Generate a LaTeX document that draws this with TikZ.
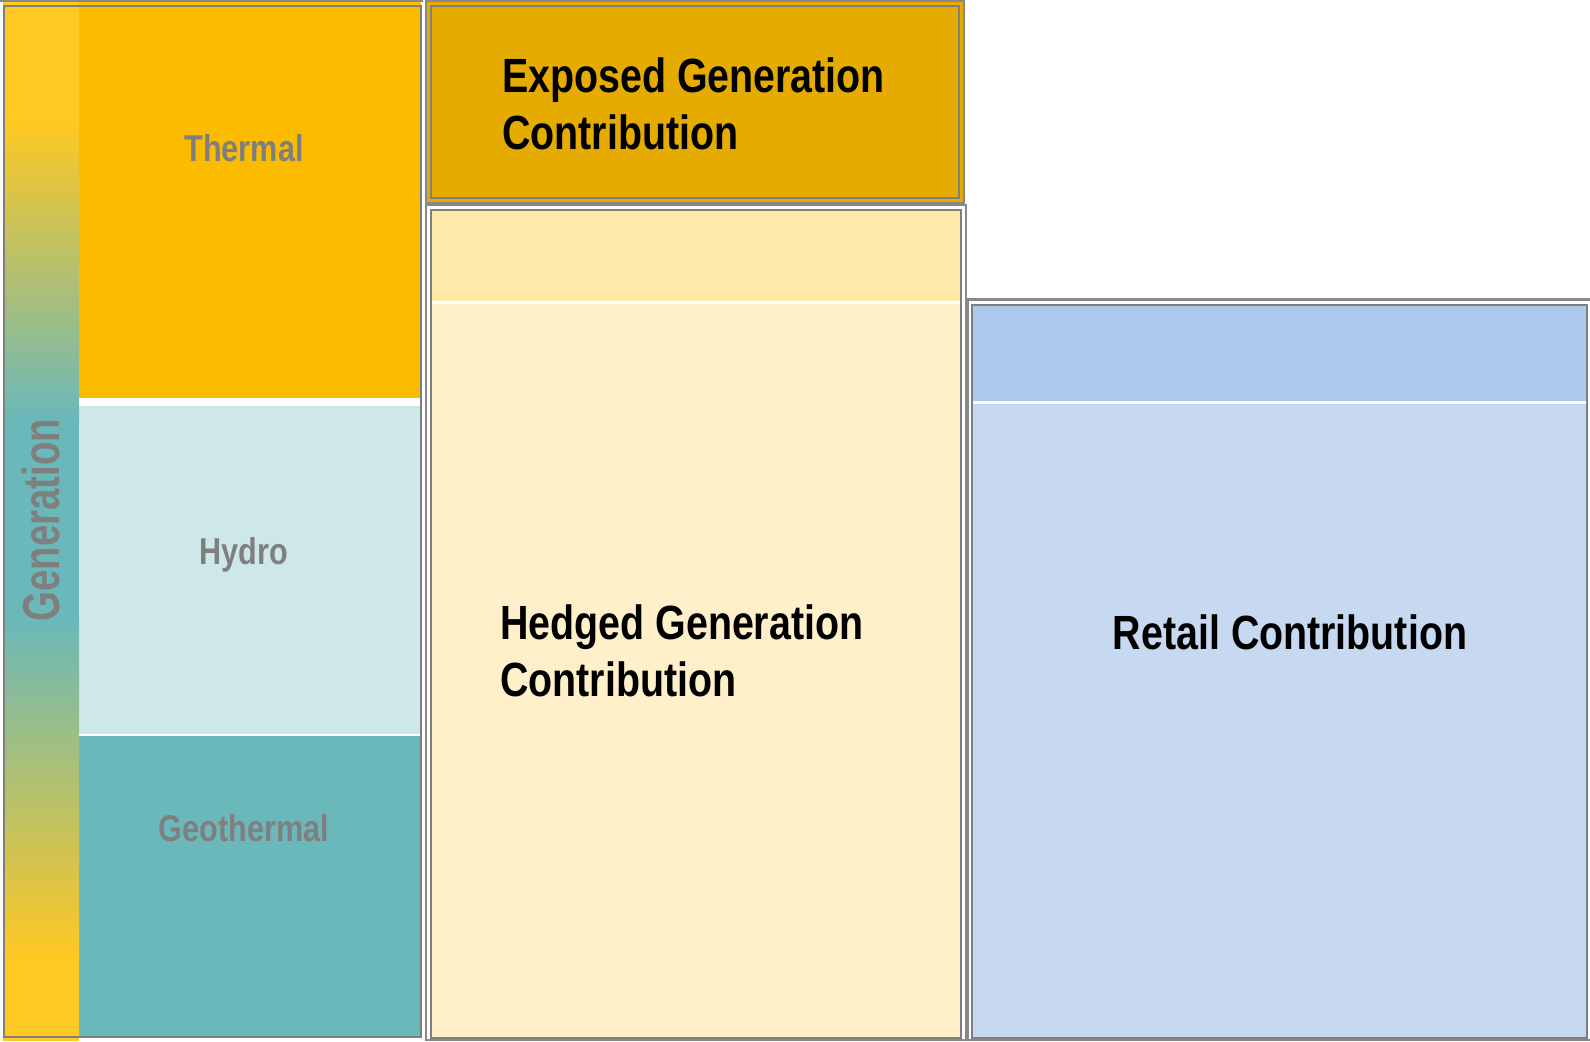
\documentclass[tikz,border=0pt]{standalone}
\usepackage{fontspec}
\setmainfont{Liberation Sans}
\newfontfamily\narrowsans[FakeStretch=0.82]{Liberation Sans}
\begin{document}
\definecolor{thermalc}{HTML}{FBBC00}
\definecolor{hydroc}{HTML}{CEE8E9}
\definecolor{geoc}{HTML}{6BB8BB}
\definecolor{exposedc}{HTML}{E6AB00}
\definecolor{hedgetop}{HTML}{FFE9A8}
\definecolor{hedgemain}{HTML}{FFF0CA}
\definecolor{retailtop}{HTML}{ACC8EC}
\definecolor{retailmain}{HTML}{C7D9F0}
\definecolor{genyellow}{HTML}{FFC822}
\definecolor{genteal}{HTML}{6AB8BA}
\definecolor{framegrey}{HTML}{7F7F7F}
\definecolor{outergrey}{HTML}{888888}
\begin{tikzpicture}[x=0.75pt,y=-0.75pt,
  frame/.style={draw=framegrey,line width=1.9pt},
  outerframe/.style={draw=outergrey,line width=1.9pt},
  sidelabel/.style={font=\narrowsans\bfseries\fontsize{28}{32}\selectfont,text=framegrey,inner sep=0pt},
  biglabel/.style={font=\narrowsans\bfseries\fontsize{36}{43}\selectfont,text=black,inner sep=0pt}]
\useasboundingbox (0,0) rectangle (1590,1041);

% ---- generation column: stacked sources ----
\fill[thermalc] (4,1) rectangle (421,398);
\fill[white] (79,398) rectangle (421,406);
\fill[hydroc] (79,406) rectangle (421,734);
\fill[white] (79,734) rectangle (421,736);
\fill[geoc] (79,736) rectangle (421,1037);

% vertical generation band with its colour blend
\fill[genyellow] (3,0) rectangle (79,120);
\shade[top color=genyellow,bottom color=genteal] (3,120) rectangle (79,420);
\fill[genteal] (3,420) rectangle (79,620);
\shade[top color=genteal,bottom color=genyellow] (3,620) rectangle (79,960);
\fill[genyellow] (3,960) rectangle (79,1041);

\draw[outerframe,line width=1pt] (0,1) -- (423,1);
\draw[frame] (4,6) rectangle (421,1037);

% ---- exposed generation ----
\draw[outerframe,fill=exposedc] (426,1) rectangle (964,203);
\draw[frame] (431,6) rectangle (959,198);

% ---- hedged generation ----
\draw[outerframe] (426,205) rectangle (966,1040);
\fill[hedgemain] (431,210) rectangle (961,1038);
\fill[hedgetop] (431,210) rectangle (961,301);
\fill[white] (431,301) rectangle (961,304);
\draw[frame] (431,210) rectangle (961,1038);

% ---- retail ----
\draw[outerframe] (968,299.5) rectangle (1592,1040);
\fill[retailmain] (972,305) rectangle (1587,1038);
\fill[retailtop] (972,305) rectangle (1587,401);
\fill[white] (972,401) rectangle (1587,404);
\draw[frame] (972,305) rectangle (1587,1038);

% ---- labels ----
\node[sidelabel,anchor=base] (thermal) at (244,162) {Thermal};
\node[sidelabel,anchor=base] (hydro) at (244,564) {Hydro};
\node[sidelabel,anchor=base] (geothermal) at (244,841) {Geothermal};
\node[sidelabel,anchor=base,rotate=90,font=\narrowsans\bfseries\fontsize{39}{40}\selectfont] (generation) at (59,520) {\scalebox{0.9}[1]{Generation}};

\node[biglabel,anchor=base west] (exposed1) at (502,93) {Exposed Generation};
\node[biglabel,anchor=base west] (exposed2) at (502,150) {Contribution};
\node[biglabel,anchor=base west] (hedged1) at (500,639) {Hedged Generation};
\node[biglabel,anchor=base west] (hedged2) at (500,696) {Contribution};
\node[biglabel,anchor=base] (retail) at (1290,649) {Retail Contribution};
\end{tikzpicture}
\end{document}
